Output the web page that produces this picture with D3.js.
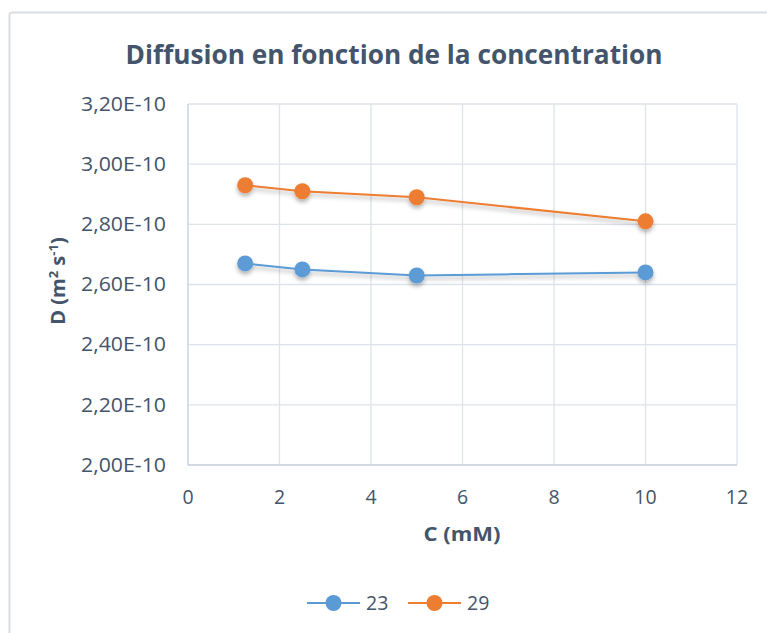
<!DOCTYPE html>
<html>
<head>
<meta charset="utf-8">
<script src="https://cdn.jsdelivr.net/npm/d3@7"></script>
<style>
  body { margin: 0; background: #fff; }
  svg { display: block; }
</style>
</head>
<body>
<svg width="767" height="633"></svg>
<script>
// concentrations (mM)
var concentrations = [1.25, 2.5, 5, 10];
// diffusion values, in units of 1E-10 m2/s
var series23 = [2.67, 2.65, 2.63, 2.64];
var series29 = [2.93, 2.91, 2.89, 2.81];
var seriesNames = ["23", "29"];
var seriesColors = ["#5B9BD5", "#ED7D31"];
var xTicks = [0, 2, 4, 6, 8, 10, 12];
var yTicks = [2.0, 2.2, 2.4, 2.6, 2.8, 3.0, 3.2];

var svg = d3.select("svg");
var textColor = "#44546A";
var fontFam = "'Open Sans', sans-serif";

// outer frame (only top and left edges visible)
svg.append("path")
  .attr("d", "M9.5,640 L9.5,15 Q9.5,12.5 12,12.5 L770,12.5")
  .attr("fill", "none")
  .attr("stroke", "#D9DEE4")
  .attr("stroke-width", 2);

var defs = svg.append("defs");
var f = defs.append("filter").attr("id", "shadow")
  .attr("x", "-20%").attr("y", "-50%").attr("width", "140%").attr("height", "200%");
f.append("feDropShadow").attr("dx", 0).attr("dy", 3).attr("stdDeviation", 2)
  .attr("flood-color", "#000").attr("flood-opacity", 0.3);

var xScale = d3.scaleLinear().domain([0, 12]).range([188, 737]);
var yScale = d3.scaleLinear().domain([2.0, 3.2]).range([465, 104]);

// gridlines
svg.append("g").selectAll("line.v")
  .data(xTicks.slice(1))
  .enter().append("line")
  .attr("x1", d => xScale(d)).attr("x2", d => xScale(d))
  .attr("y1", yScale(3.2)).attr("y2", yScale(2.0))
  .attr("stroke", "#DEE3EA").attr("stroke-width", 1.3);

svg.append("g").selectAll("line.h")
  .data(yTicks.slice(1))
  .enter().append("line")
  .attr("x1", xScale(0)).attr("x2", xScale(12))
  .attr("y1", d => yScale(d)).attr("y2", d => yScale(d))
  .attr("stroke", "#DEE3EA").attr("stroke-width", 1.3);

// axis lines
svg.append("line")
  .attr("x1", xScale(0)).attr("x2", xScale(0))
  .attr("y1", yScale(3.2)).attr("y2", yScale(2.0))
  .attr("stroke", "#C5CEDB").attr("stroke-width", 1.3);
svg.append("line")
  .attr("x1", xScale(0)).attr("x2", xScale(12))
  .attr("y1", yScale(2.0)).attr("y2", yScale(2.0))
  .attr("stroke", "#C5CEDB").attr("stroke-width", 1.3);

// tick labels
svg.append("g").selectAll("text")
  .data(yTicks)
  .enter().append("text")
  .attr("x", 166)
  .attr("y", d => yScale(d))
  .attr("dy", "0.35em")
  .attr("text-anchor", "end")
  .attr("font-family", fontFam)
  .attr("font-size", 19.5)
  .attr("textLength", 85)
  .attr("lengthAdjust", "spacingAndGlyphs")
  .attr("fill", textColor)
  .text(d => d.toFixed(2).replace(".", ",") + "E-10");

svg.append("g").selectAll("text")
  .data(xTicks)
  .enter().append("text")
  .attr("x", d => xScale(d))
  .attr("y", 504)
  .attr("text-anchor", "middle")
  .attr("font-family", fontFam)
  .attr("font-size", 19.5)
  .attr("fill", textColor)
  .text(d => d);

// title
svg.append("text")
  .attr("x", 394).attr("y", 64)
  .attr("text-anchor", "middle")
  .attr("font-family", fontFam)
  .attr("font-weight", "bold")
  .attr("font-size", 27)
  .attr("textLength", 537)
  .attr("lengthAdjust", "spacingAndGlyphs")
  .attr("fill", textColor)
  .text("Diffusion en fonction de la concentration");

// axis titles
svg.append("text")
  .attr("x", 462).attr("y", 541)
  .attr("text-anchor", "middle")
  .attr("font-family", fontFam)
  .attr("font-weight", "bold")
  .attr("font-size", 20)
  .attr("textLength", 77)
  .attr("lengthAdjust", "spacingAndGlyphs")
  .attr("fill", textColor)
  .text("C (mM)");

var yt = svg.append("text")
  .attr("transform", "translate(65,281) rotate(-90)")
  .attr("text-anchor", "middle")
  .attr("font-family", fontFam)
  .attr("font-weight", "bold")
  .attr("font-size", 20)
  .attr("fill", textColor);
yt.append("tspan").text("D (m");
yt.append("tspan").attr("font-size", 13).attr("dy", -7).text("2");
yt.append("tspan").attr("dy", 7).text(" s");
yt.append("tspan").attr("font-size", 13).attr("dy", -7).text("-1");
yt.append("tspan").attr("dy", 7).text(")");

// series
var allSeries = [series23, series29];
var line = d3.line()
  .x((d, i) => xScale(concentrations[i]))
  .y(d => yScale(d));

allSeries.forEach(function(vals, s) {
  var g = svg.append("g").attr("filter", "url(#shadow)");
  g.append("path")
    .datum(vals)
    .attr("d", line)
    .attr("fill", "none")
    .attr("stroke", seriesColors[s])
    .attr("stroke-width", 2);
  g.selectAll("circle")
    .data(vals)
    .enter().append("circle")
    .attr("cx", (d, i) => xScale(concentrations[i]))
    .attr("cy", d => yScale(d))
    .attr("r", 8)
    .attr("fill", seriesColors[s]);
});

// legend
var legendX = [307, 408];
seriesNames.forEach(function(name, s) {
  var lg = svg.append("g").attr("transform", "translate(" + legendX[s] + ",603)");
  lg.append("line")
    .attr("x1", 0).attr("x2", 53).attr("y1", 0).attr("y2", 0)
    .attr("stroke", seriesColors[s]).attr("stroke-width", 2);
  lg.append("circle")
    .attr("cx", 26.5).attr("cy", 0).attr("r", 8)
    .attr("fill", seriesColors[s]);
  lg.append("text")
    .attr("x", 59).attr("y", 0).attr("dy", "0.35em")
    .attr("font-family", fontFam)
    .attr("font-size", 19.5)
    .attr("fill", textColor)
    .text(name);
});
</script>
</body>
</html>
